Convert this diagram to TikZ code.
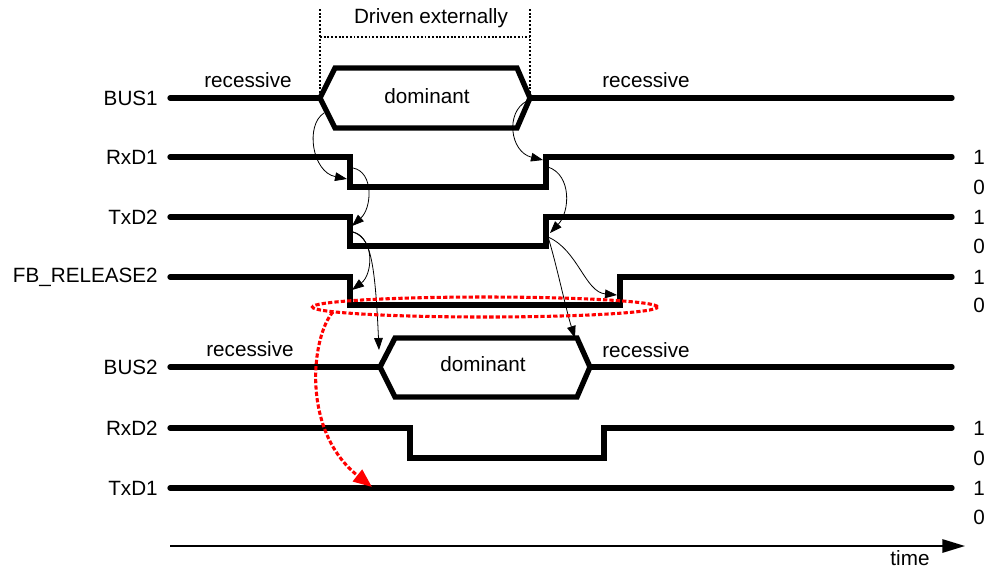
\documentclass[tikz,border=0pt]{standalone}
\usepackage{fontspec}
\setmainfont{Liberation Sans}
\usetikzlibrary{
	positioning,
	arrows.meta,
	shapes.geometric
}

\begin{document}
\begin{tikzpicture}[
	x=0.75pt, y=-0.75pt,
	font=\fontsize{15.5}{18}\selectfont,
	wave/.style = {line width=4pt, line cap=round, line join=miter},
	signame/.style = {anchor=east, inner sep=0pt},
	level/.style = {anchor=west, inner sep=0pt},
	marker/.style = {line width=1.4pt, dash pattern=on 1.4pt off 1.4pt},
	cause/.style = {-{Triangle[length=9pt,width=6.5pt]}, line width=0.6pt},
	release/.style = {red, line width=2.3pt, dash pattern=on 3.2pt off 1.6pt}
]
	\useasboundingbox (0,0) rectangle (985,569);

	\node (bus1) [signame] at (158,98) {BUS1};
	\node (rxd1) [signame] at (158,157) {RxD1};
	\node (txd2) [signame] at (158,217) {TxD2};
	\node (fbr2) [signame] at (158,277) {FB\_RELEASE2};
	\node (bus2) [signame] at (158,367) {BUS2};
	\node (rxd2) [signame] at (158,428) {RxD2};
	\node (txd1) [signame] at (158,488) {TxD1};

	\draw [wave] (170,98) -- (320,98);
	\draw [wave] (320,98) -- (335,68) -- (517,68) -- (530,98) -- (517,128) -- (335,128) -- cycle;
	\draw [wave] (530,98) -- (952,98);
	\draw [wave] (170,157) -- (350,157) -- (350,187) -- (546,187) -- (546,157) -- (952,157);
	\draw [wave] (170,217) -- (350,217) -- (350,246) -- (546,246) -- (546,217) -- (952,217);
	\draw [wave] (170,277) -- (350,277) -- (350,305) -- (620,305) -- (620,277) -- (952,277);
	\draw [wave] (170,367) -- (380,367);
	\draw [wave] (380,367) -- (395,338) -- (577,338) -- (590,367) -- (577,397) -- (395,397) -- cycle;
	\draw [wave] (590,367) -- (952,367);
	\draw [wave] (170,428) -- (410,428) -- (410,458) -- (604,458) -- (604,428) -- (952,428);
	\draw [wave] (170,488) -- (952,488);

	\node (dom1) at (427,96) {dominant};
	\node (dom2) at (483,364) {dominant};
	\node (rec1) at (248,80) {recessive};
	\node (rec2) at (646,80) {recessive};
	\node (rec3) at (250,349) {recessive};
	\node (rec4) at (646,350) {recessive};

	\coordinate (drvL) at (320,9);
	\coordinate (drvR) at (530,9);
	\draw [marker] (drvL) -- (320,98);
	\draw [marker] (drvR) -- (530,98);
	\draw [marker] (320,37) -- (530,37);
	\node (drv) at (431,18) {Driven externally};

	\foreach \y/\v in {157/1,187/0,217/1,246/0,277/1,305/0,428/1,458/0,488/1,517/0}
		\node [level] at (973,\y) {\v};

	\coordinate (t0) at (170,546);
	\coordinate (t1) at (965,546);
	\draw [-{Triangle[length=17pt,width=10pt]}, line width=1.4pt] (t0) -- (t1);
	\node (time) at (910,558) {time};

	\coordinate (b1a) at (324,113);
	\coordinate (rx1a) at (347,179);
	\coordinate (rx1b) at (353,168);
	\coordinate (tx2a) at (352,226);
	\coordinate (tx2b) at (353,232);
	\coordinate (fb2a) at (352,290);
	\coordinate (bs2a) at (379,350);
	\coordinate (b1b) at (527,101);
	\coordinate (rx1c) at (543,160);
	\coordinate (rx1d) at (548,167);
	\coordinate (tx2c) at (550,233);
	\coordinate (tx2d) at (548,237);
	\coordinate (fb2c) at (617,295);
	\coordinate (bs2b) at (575,338);

	\draw [cause] (b1a) .. controls (305,125) and (312,172) .. (rx1a);
	\draw [cause] (rx1b) .. controls (374,172) and (372,208) .. (tx2a);
	\draw [cause] (tx2b) .. controls (376,240) and (372,275) .. (fb2a);
	\draw [cause] (tx2b) .. controls (370,236) and (375,260) .. (bs2a);
	\draw [cause] (b1b) .. controls (505,112) and (510,152) .. (rx1c);
	\draw [cause] (rx1d) .. controls (572,175) and (570,212) .. (tx2c);
	\draw [cause] (tx2d) .. controls (578,250) and (585,292) .. (fb2c);
	\draw [cause] (tx2d) .. controls (556,262) and (566,310) .. (bs2b);

	\node (relbox) [ellipse, draw, release, minimum width=258.75pt, minimum height=15pt, inner sep=0pt] at (485,307) {};
	\coordinate (rel) at (333,312);
	\coordinate (tx1a) at (372,487);
	\draw [release, -{Triangle[length=14pt,width=11pt]}] (rel) .. controls (312,335) and (300,430) .. (tx1a);
\end{tikzpicture}
\end{document}
